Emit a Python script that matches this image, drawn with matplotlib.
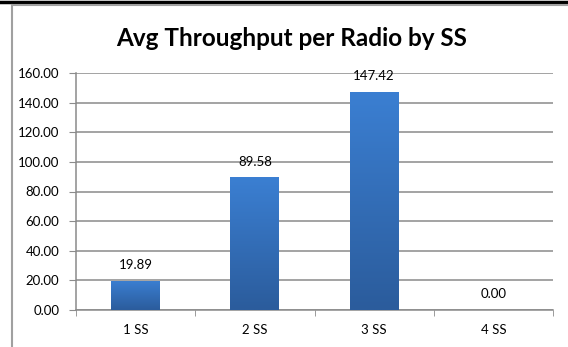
import matplotlib
matplotlib.use('Agg')
import matplotlib.pyplot as plt
import numpy as np
from matplotlib.colors import LinearSegmentedColormap
from matplotlib.lines import Line2D

categories = ['1 SS', '2 SS', '3 SS', '4 SS']
throughput = [19.89, 89.58, 147.42, 0.00]
y_ticks = [0, 20, 40, 60, 80, 100, 120, 140, 160]

plt.rcParams['font.family'] = ['Lato', 'DejaVu Sans']

fig = plt.figure(figsize=(5.68, 3.47), dpi=100)
ax = fig.add_axes([76 / 568, 1 - 310 / 347, (553 - 76) / 568, (310 - 73) / 347])

x = np.arange(len(categories))
bars = ax.bar(x, throughput, width=0.41, color='#3670b8', zorder=3)

# vertical gradient fill, lighter at the top
grad = LinearSegmentedColormap.from_list('bar', ['#2b5c9c', '#3b7fd2'])
for b in bars:
    if b.get_height() <= 0:
        continue
    x0, y0 = b.get_x(), b.get_y()
    w, h = b.get_width(), b.get_height()
    img = ax.imshow(np.linspace(0, 1, 100).reshape(-1, 1), cmap=grad, origin='lower',
                    extent=[x0, x0 + w, y0, y0 + h], aspect='auto', zorder=3.5)
    img.set_clip_path(b)

for xi, v in zip(x, throughput):
    ax.annotate(f'{v:.2f}', (xi, v), xytext=(0, 7), textcoords='offset points',
                ha='center', va='bottom', fontsize=9.5, color='black')

ax.set_xlim(-0.5, len(categories) - 0.5)
ax.set_ylim(0, 160)
ax.set_yticks(y_ticks)
ax.set_yticklabels([f'{t:.2f}' for t in y_ticks], fontsize=9.5)
ax.set_xticks(x)
ax.set_xticklabels(categories, fontsize=9.5)
ax.set_xticks(np.arange(-0.5, len(categories)), minor=True)
ax.tick_params(axis='x', which='major', length=0, pad=10)
ax.tick_params(axis='x', which='minor', length=4, color='#8c8c8c', direction='out')
ax.tick_params(axis='y', length=5, color='#8c8c8c', pad=7)
ax.yaxis.grid(True, color='#8a8a8a', linewidth=1.1, zorder=0)
ax.set_axisbelow(True)
for side in ['top', 'right']:
    ax.spines[side].set_visible(False)
for side in ['left', 'bottom']:
    ax.spines[side].set_color('#8a8a8a')
    ax.spines[side].set_linewidth(1.1)

fig.text(292 / 568, 1 - 38 / 347, 'Avg Throughput per Radio by SS', ha='center', va='center',
         fontsize=17.5, fontweight='bold')

# frame: dark strip across the top, light edge lines
fig.add_artist(Line2D([0, 1], [1 - 1.5 / 347, 1 - 1.5 / 347], color='black', linewidth=2.5,
                      transform=fig.transFigure))
fig.add_artist(Line2D([11.5 / 568, 1], [1 - 4.5 / 347, 1 - 4.5 / 347], color='#a0a0a0', linewidth=1.5,
                      transform=fig.transFigure))
fig.add_artist(Line2D([11.5 / 568, 11.5 / 568], [0, 1 - 4.5 / 347], color='#a0a0a0', linewidth=1.5,
                      transform=fig.transFigure))

fig.savefig('out.png', dpi=100)
